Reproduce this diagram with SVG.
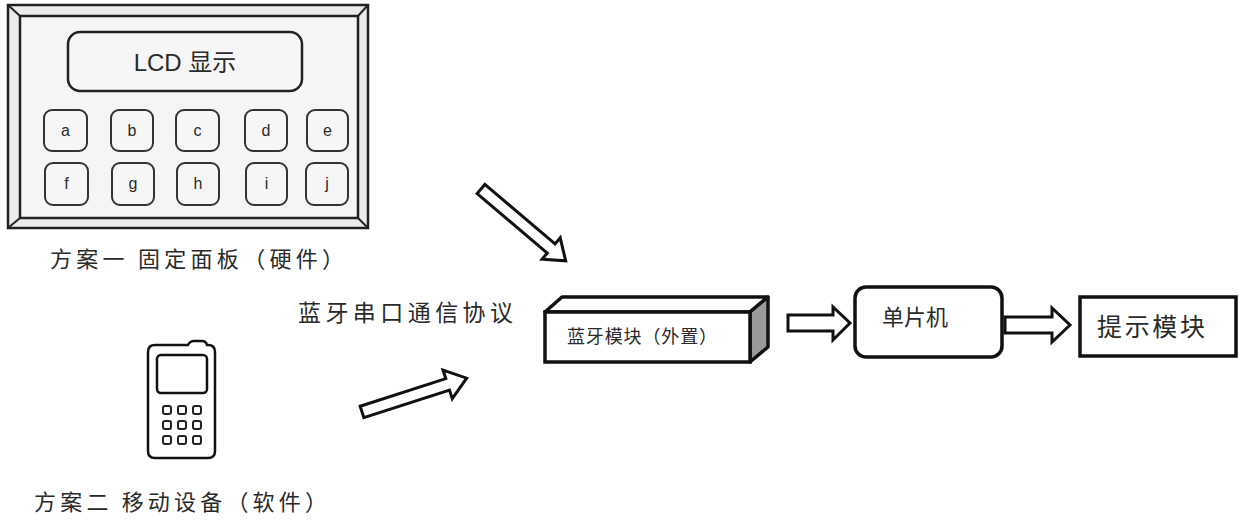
<svg xmlns="http://www.w3.org/2000/svg" width="1242" height="526" viewBox="0 0 1242 526">
<style>
.cn{font-family:"Noto Sans CJK SC","Noto Sans",sans-serif;fill:#2a2a2a}
.en{font-family:"Liberation Sans","Noto Sans CJK SC",sans-serif;fill:#2a2a2a}
.key{fill:#f6f6f6;stroke:#333;stroke-width:2}
.pk{fill:none;stroke:#222;stroke-width:2}
.hollow{fill:#fff;stroke:#111;stroke-width:3;stroke-linejoin:miter}
.box{fill:#fff;stroke:#111;stroke-width:3.5}
</style>
<rect x="0" y="0" width="1242" height="526" fill="#fff"/>

<g id="panel">
  <rect x="8" y="5" width="360" height="223" fill="#ebebeb" stroke="#222" stroke-width="2.5"/>
  <rect x="20" y="16" width="338" height="202" fill="#f5f5f5" stroke="#222" stroke-width="2.5"/>
  <line x1="8" y1="5" x2="20" y2="16" stroke="#222" stroke-width="2"/>
  <line x1="368" y1="5" x2="358" y2="16" stroke="#222" stroke-width="2"/>
  <line x1="8" y1="228" x2="20" y2="218" stroke="#222" stroke-width="2"/>
  <line x1="368" y1="228" x2="358" y2="218" stroke="#222" stroke-width="2"/>
  <g id="lcd">
    <rect x="68" y="32" width="234" height="59" rx="12" fill="#f6f6f6" stroke="#222" stroke-width="2.5"/>
    <text class="en" x="185" y="71" font-size="24" text-anchor="middle">LCD 显示</text>
  </g>
  <g id="key-a"><rect class="key" x="44" y="110" width="43" height="41" rx="8"/><text class="en" x="65.5" y="136" font-size="16" text-anchor="middle">a</text></g>
  <g id="key-b"><rect class="key" x="111" y="110" width="42" height="41" rx="8"/><text class="en" x="132" y="136" font-size="16" text-anchor="middle">b</text></g>
  <g id="key-c"><rect class="key" x="176" y="110" width="43" height="41" rx="8"/><text class="en" x="197.5" y="136" font-size="16" text-anchor="middle">c</text></g>
  <g id="key-d"><rect class="key" x="245" y="110" width="42" height="41" rx="8"/><text class="en" x="266" y="136" font-size="16" text-anchor="middle">d</text></g>
  <g id="key-e"><rect class="key" x="307" y="110" width="41" height="41" rx="8"/><text class="en" x="327.5" y="136" font-size="16" text-anchor="middle">e</text></g>
  <g id="key-f"><rect class="key" x="45" y="163" width="43" height="42" rx="8"/><text class="en" x="66.5" y="189" font-size="16" text-anchor="middle">f</text></g>
  <g id="key-g"><rect class="key" x="112" y="163" width="42" height="42" rx="8"/><text class="en" x="133" y="189" font-size="16" text-anchor="middle">g</text></g>
  <g id="key-h"><rect class="key" x="177" y="163" width="42" height="42" rx="8"/><text class="en" x="198" y="189" font-size="16" text-anchor="middle">h</text></g>
  <g id="key-i"><rect class="key" x="246" y="163" width="41" height="42" rx="8"/><text class="en" x="266.5" y="189" font-size="16" text-anchor="middle">i</text></g>
  <g id="key-j"><rect class="key" x="306" y="163" width="42" height="42" rx="8"/><text class="en" x="327" y="189" font-size="16" text-anchor="middle">j</text></g>
</g>
<g id="caption-1">
  <text class="cn" x="50" y="267" font-size="22" textLength="294" lengthAdjust="spacing">方案一 固定面板（硬件）</text>
</g>

<g id="phone">
  <path d="M155,345 H188 Q190,341 194,341 H202 Q206,341 207,345 H208 Q215,345 215,352 V451 Q215,458 208,458 H155 Q148,458 148,451 V352 Q148,345 155,345 Z" fill="#fff" stroke="#111" stroke-width="2.5"/>
  <rect x="157" y="355" width="50" height="38" rx="4" fill="#fff" stroke="#111" stroke-width="2.5"/>
  <rect class="pk" x="163" y="406" width="8" height="8" rx="2"/>
  <rect class="pk" x="178" y="406" width="8" height="8" rx="2"/>
  <rect class="pk" x="193" y="406" width="8" height="8" rx="2"/>
  <rect class="pk" x="163" y="421" width="8" height="8" rx="2"/>
  <rect class="pk" x="178" y="421" width="8" height="8" rx="2"/>
  <rect class="pk" x="193" y="421" width="8" height="8" rx="2"/>
  <rect class="pk" x="163" y="436" width="8" height="8" rx="2"/>
  <rect class="pk" x="178" y="436" width="8" height="8" rx="2"/>
  <rect class="pk" x="193" y="436" width="8" height="8" rx="2"/>
</g>
<g id="caption-2">
  <text class="cn" x="34" y="510" font-size="22" textLength="293" lengthAdjust="spacing">方案二 移动设备（软件）</text>
</g>

<g id="protocol-label">
  <text class="cn" x="298" y="321" font-size="23" textLength="215" lengthAdjust="spacing">蓝牙串口通信协议</text>
</g>

<g id="bt-module">
  <polygon points="545,312 562,297 768,297 750,312" fill="#fff" stroke="#111" stroke-width="3.5" stroke-linejoin="round"/>
  <polygon points="750,312 768,297 768,347 750,362" fill="#9a9a9a" stroke="#111" stroke-width="3.5" stroke-linejoin="round"/>
  <rect class="box" x="545" y="312" width="205" height="50"/>
  <text class="cn" x="567" y="343" font-size="18" textLength="150" lengthAdjust="spacing">蓝牙模块（外置）</text>
</g>

<g id="mcu">
  <rect class="box" x="855" y="287" width="147" height="70" rx="11"/>
  <text class="cn" x="915" y="325" font-size="22" text-anchor="middle">单片机</text>
</g>

<g id="prompt">
  <rect class="box" x="1080" y="297" width="156" height="59"/>
  <text class="cn" x="1097" y="336" font-size="25" textLength="108" lengthAdjust="spacing">提示模块</text>
</g>

<g id="connectors">
  <polygon class="hollow" transform="translate(481,189) rotate(40.3)" points="0,-6 92,-6 92,-14 111,0 92,14 92,6 0,6"/>
  <polygon class="hollow" transform="translate(362,412) rotate(-17.9)" points="0,-6 90,-6 90,-15 110,0 90,15 90,6 0,6"/>
  <polygon class="hollow" points="788,315 833,315 833,307 850,323 833,340 833,331 788,331"/>
  <polygon class="hollow" points="1005,317 1052,317 1052,308 1070,325 1052,342 1052,333 1005,333"/>
</g>
</svg>
